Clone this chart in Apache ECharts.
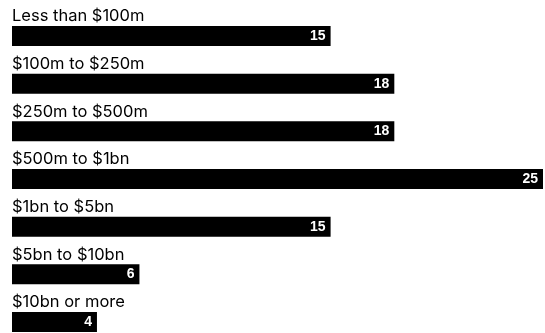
<!DOCTYPE html>
<html>
<head>
<meta charset="utf-8">
<script src="https://cdn.jsdelivr.net/npm/echarts@6/dist/echarts.min.js"></script>
<style>
  html, body { margin: 0; padding: 0; background: #fff; }
  #chart { width: 545px; height: 333px; }
</style>
</head>
<body>
<div id="chart"></div>
<script>
// Deal counts by company size band
const categories = [
  'Less than $100m',
  '$100m to $250m',
  '$250m to $500m',
  '$500m to $1bn',
  '$1bn to $5bn',
  '$5bn to $10bn',
  '$10bn or more'
];
const values = [15, 18, 18, 25, 15, 6, 4];

const chart = echarts.init(document.getElementById('chart'), null, { renderer: 'canvas' });

chart.setOption({
  animation: false,
  backgroundColor: '#ffffff',
  // rows sit on the category ticks, so the grid spans first to last bar centre
  grid: { left: 12, top: 36, right: 2, bottom: 11, containLabel: false },
  xAxis: {
    type: 'value',
    min: 0,
    max: 25,
    show: false
  },
  yAxis: {
    type: 'category',
    data: categories,
    inverse: true,
    boundaryGap: false,
    show: false
  },
  series: [
    {
      type: 'bar',
      data: values,
      barWidth: 20,
      clip: false,
      itemStyle: { color: '#000000' },
      label: {
        show: true,
        position: 'insideRight',
        distance: 5,
        color: '#ffffff',
        fontFamily: 'Liberation Sans, Arial, sans-serif',
        fontWeight: 'bold',
        fontSize: 14,
        formatter: '{c}'
      }
    },
    {
      // transparent overlay carrying the category name above each bar
      type: 'bar',
      data: values,
      barWidth: 20,
      barGap: '-100%',
      clip: false,
      silent: true,
      itemStyle: { color: 'rgba(0,0,0,0)' },
      label: {
        show: true,
        position: [0, -18],
        color: '#000000',
        fontFamily: 'Inter, sans-serif',
        fontSize: 16.5,
        formatter: '{b}'
      }
    }
  ]
});
</script>
</body>
</html>
